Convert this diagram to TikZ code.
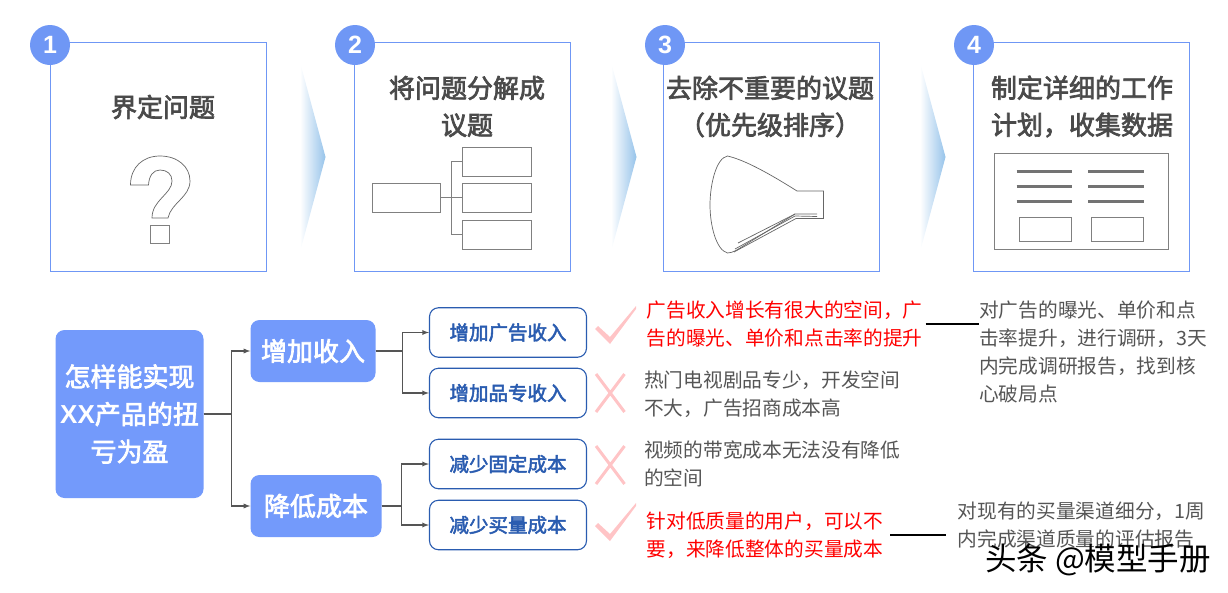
\documentclass[tikz,border=0pt]{standalone}
\usepackage{fontspec}
\setmainfont{Noto Sans CJK SC}
\newfontfamily\midfont[FakeBold=2.6]{Noto Sans CJK SC}
\newfontfamily\numfont{Liberation Sans}
\usetikzlibrary{calc,shapes,arrows}
\definecolor{cardblue}{HTML}{6F97F5}
\definecolor{fillblue}{HTML}{739AFB}
\definecolor{leafblue}{HTML}{2A5CB0}
\definecolor{titlegray}{HTML}{4A4A4A}
\definecolor{bodygray}{HTML}{555555}
\definecolor{sketchgray}{HTML}{808080}
\definecolor{markpink}{HTML}{FFC4C6}
\definecolor{chevblue}{HTML}{96C3EA}
\tikzset{
  card/.style={draw=cardblue,line width=1.2pt,fill=white,minimum width=216pt,minimum height=229pt,anchor=north west,inner sep=0pt},
  badge/.style={circle,fill=cardblue,text=white,minimum size=40pt,inner sep=0pt,font=\numfont\fontsize{25}{25}\selectfont\bfseries},
  cardtitle/.style={text=titlegray,align=center,inner sep=0pt,font=\midfont\fontsize{26}{37}\selectfont},
  rootbox/.style={fill=fillblue,rounded corners=9pt,text=white,align=center,inner sep=0pt,font=\midfont\fontsize{26}{37.5}\selectfont},
  midbox/.style={rootbox,minimum height=62pt},
  leafbox/.style={draw=leafblue,line width=1.1pt,rounded corners=9pt,minimum width=157pt,minimum height=49.5pt,inner sep=0pt,text=leafblue,font=\midfont\fontsize{19.5}{19.5}\selectfont},
  note/.style={anchor=west,align=left,inner sep=0pt,text=bodygray,font=\fontsize{19.7}{28}\selectfont},
  rednote/.style={note,text=red},
  sketch/.style={draw=sketchgray,line width=1pt},
  thin sketch/.style={draw=sketchgray!80!black,line width=.7pt},
  link/.style={draw=bodygray,line width=1.3pt,-latex},
  rule/.style={draw=black,line width=1.6pt}
}
\begin{document}
\begin{tikzpicture}[x=1pt,y=-1pt]
  \useasboundingbox (0,0) rectangle (1228,592);
  % top row
  \foreach \x/\n in {49.5/1,353.5/2,662.5/3,973/4}
    \node[card] (card\n) at (\x,42) {};
  \foreach \x/\n in {50/1,355/2,665/3,974/4}
    \node[badge] (badge\n) at (\x,45) {\n};
  \foreach \x in {300,611,920}
    \shade[left color=white,right color=chevblue] (\x,62) -- (\x+25.5,157) -- (\x,252) -- cycle;
  \node[cardtitle] (title1) at (163,107) {界定问题};
  \node[cardtitle] (title2) at (467,106.5) {将问题分解成\\议题};
  \node[cardtitle] (title3) at (770,106.5) {去除不重要的议题\\（优先级排序）};
  \node[cardtitle] (title4) at (1082,106.5) {制定详细的工作\\计划，收集数据};
  % question mark
  \draw[thin sketch] (130.5,185) .. controls (130.5,167) and (143,156) .. (160,156)
    .. controls (178,156) and (190,167) .. (190,181)
    .. controls (190,197) and (171,203) .. (168,218) -- (152,218)
    .. controls (152,200) and (172,194) .. (172,181)
    .. controls (172,174) and (167,170) .. (160,170)
    .. controls (153,170) and (149,176) .. (148.5,185) -- cycle;
  \draw[sketch] (150,225) rectangle (169,243);
  % tree sketch
  \draw[sketch] (372,183) rectangle (440.5,212);
  \foreach \y in {147,183,220}
    \draw[sketch] (462.5,\y) rectangle (531,\y+29);
  \draw[sketch] (440.5,197.5) -- (462.5,197.5);
  \draw[sketch] (462.5,161) -- (451.5,161) -- (451.5,234.5) -- (462.5,234.5);
  % funnel sketch
  \draw[thin sketch] (797,191) .. controls (770,174) and (745,160) .. (727.5,156)
    .. controls (716,158) and (710,185) .. (710,205)
    .. controls (710,225) and (716,250) .. (727.5,253)
    .. controls (730,253) and (733,252) .. (736,250.5) -- (795,214) -- (817,214);
  \draw[thin sketch] (797,191) -- (823.5,191) -- (823.5,218.5) -- (796,218.5) -- (734,252);
  \draw[thin sketch] (735,249) -- (795,216) -- (817,216.5);
  \draw[thin sketch] (738,243) -- (795,214);
  % sheet sketch
  \draw[sketch] (994.5,153) rectangle (1168.5,249);
  \foreach \y in {171,186,201} {
    \draw[draw=sketchgray!90!black,line width=3pt] (1016.5,\y) -- (1072,\y);
    \draw[draw=sketchgray!90!black,line width=3pt] (1088,\y) -- (1143.5,\y);
  }
  \draw[sketch] (1019,217) rectangle (1071,241);
  \draw[sketch] (1091.5,217) rectangle (1143,241);
  % tree
  \node[rootbox,minimum width=148pt,minimum height=168pt] (root) at (129.5,414) {怎样能实现\\{\numfont\bfseries XX}产品的扭\\亏为盈};
  \node[midbox,minimum width=125pt] (income) at (313,351) {增加收入};
  \node[midbox,minimum width=131pt] (cost) at (316,506) {降低成本};
  \node[leafbox] (leaf1) at (508,332.5) {增加广告收入};
  \node[leafbox] (leaf2) at (508,393) {增加品专收入};
  \node[leafbox] (leaf3) at (508,464) {减少固定成本};
  \node[leafbox] (leaf4) at (508,525) {减少买量成本};
  \draw[link] (root.east) -- ++(27.5,0) |- (income.west);
  \draw[link] (root.east) -- ++(27.5,0) |- (cost.west);
  \draw[link] (income.east) -- ++(26.5,0) |- (leaf1.west);
  \draw[link] (income.east) -- ++(26.5,0) |- (leaf2.west);
  \draw[link] (cost.east) -- ++(20,0) |- (leaf3.west);
  \draw[link] (cost.east) -- ++(20,0) |- (leaf4.west);
  % marks
  \foreach \y in {0,197}
    \fill[markpink,shift={(0,\y)}] (595,329) -- (598,326) -- (610,337) -- (636,306) -- (636,309) -- (610,344) -- cycle;
  \foreach \y in {374,446}
    \draw[markpink,line width=3pt,shift={(0,\y)}] (596,0) -- (624.5,38) (624.5,0) -- (596,38);
  % notes
  \node[rednote] (note1) at (646.5,324) {广告收入增长有很大的空间，广\\告的曝光、单价和点击率的提升};
  \node[note] (note2) at (644,394) {热门电视剧品专少，开发空间\\不大，广告招商成本高};
  \node[note] (note3) at (644,464) {视频的带宽成本无法没有降低\\的空间};
  \node[rednote] (note4) at (646.5,535) {针对低质量的用户，可以不\\要，来降低整体的买量成本};
  \node[note] (plan1) at (979,352) {对广告的曝光、单价和点\\击率提升，进行调研，3天\\内完成调研报告，找到核\\心破局点};
  \node[note] (plan4) at (957.5,525) {对现有的买量渠道细分，1周\\内完成渠道质量的评估报告};
  \draw[rule,shorten <=3pt] (note1.east) -- (note1.east -| plan1.west);
  \draw[rule,shorten <=7pt,shorten >=12pt] (note4.east) -- (note4.east -| plan4.west);
  \node[text=black,inner sep=0pt,font=\fontsize{31.5}{31.5}\selectfont] (mark) at (1098,560) {头条 @模型手册};
\end{tikzpicture}
\end{document}
